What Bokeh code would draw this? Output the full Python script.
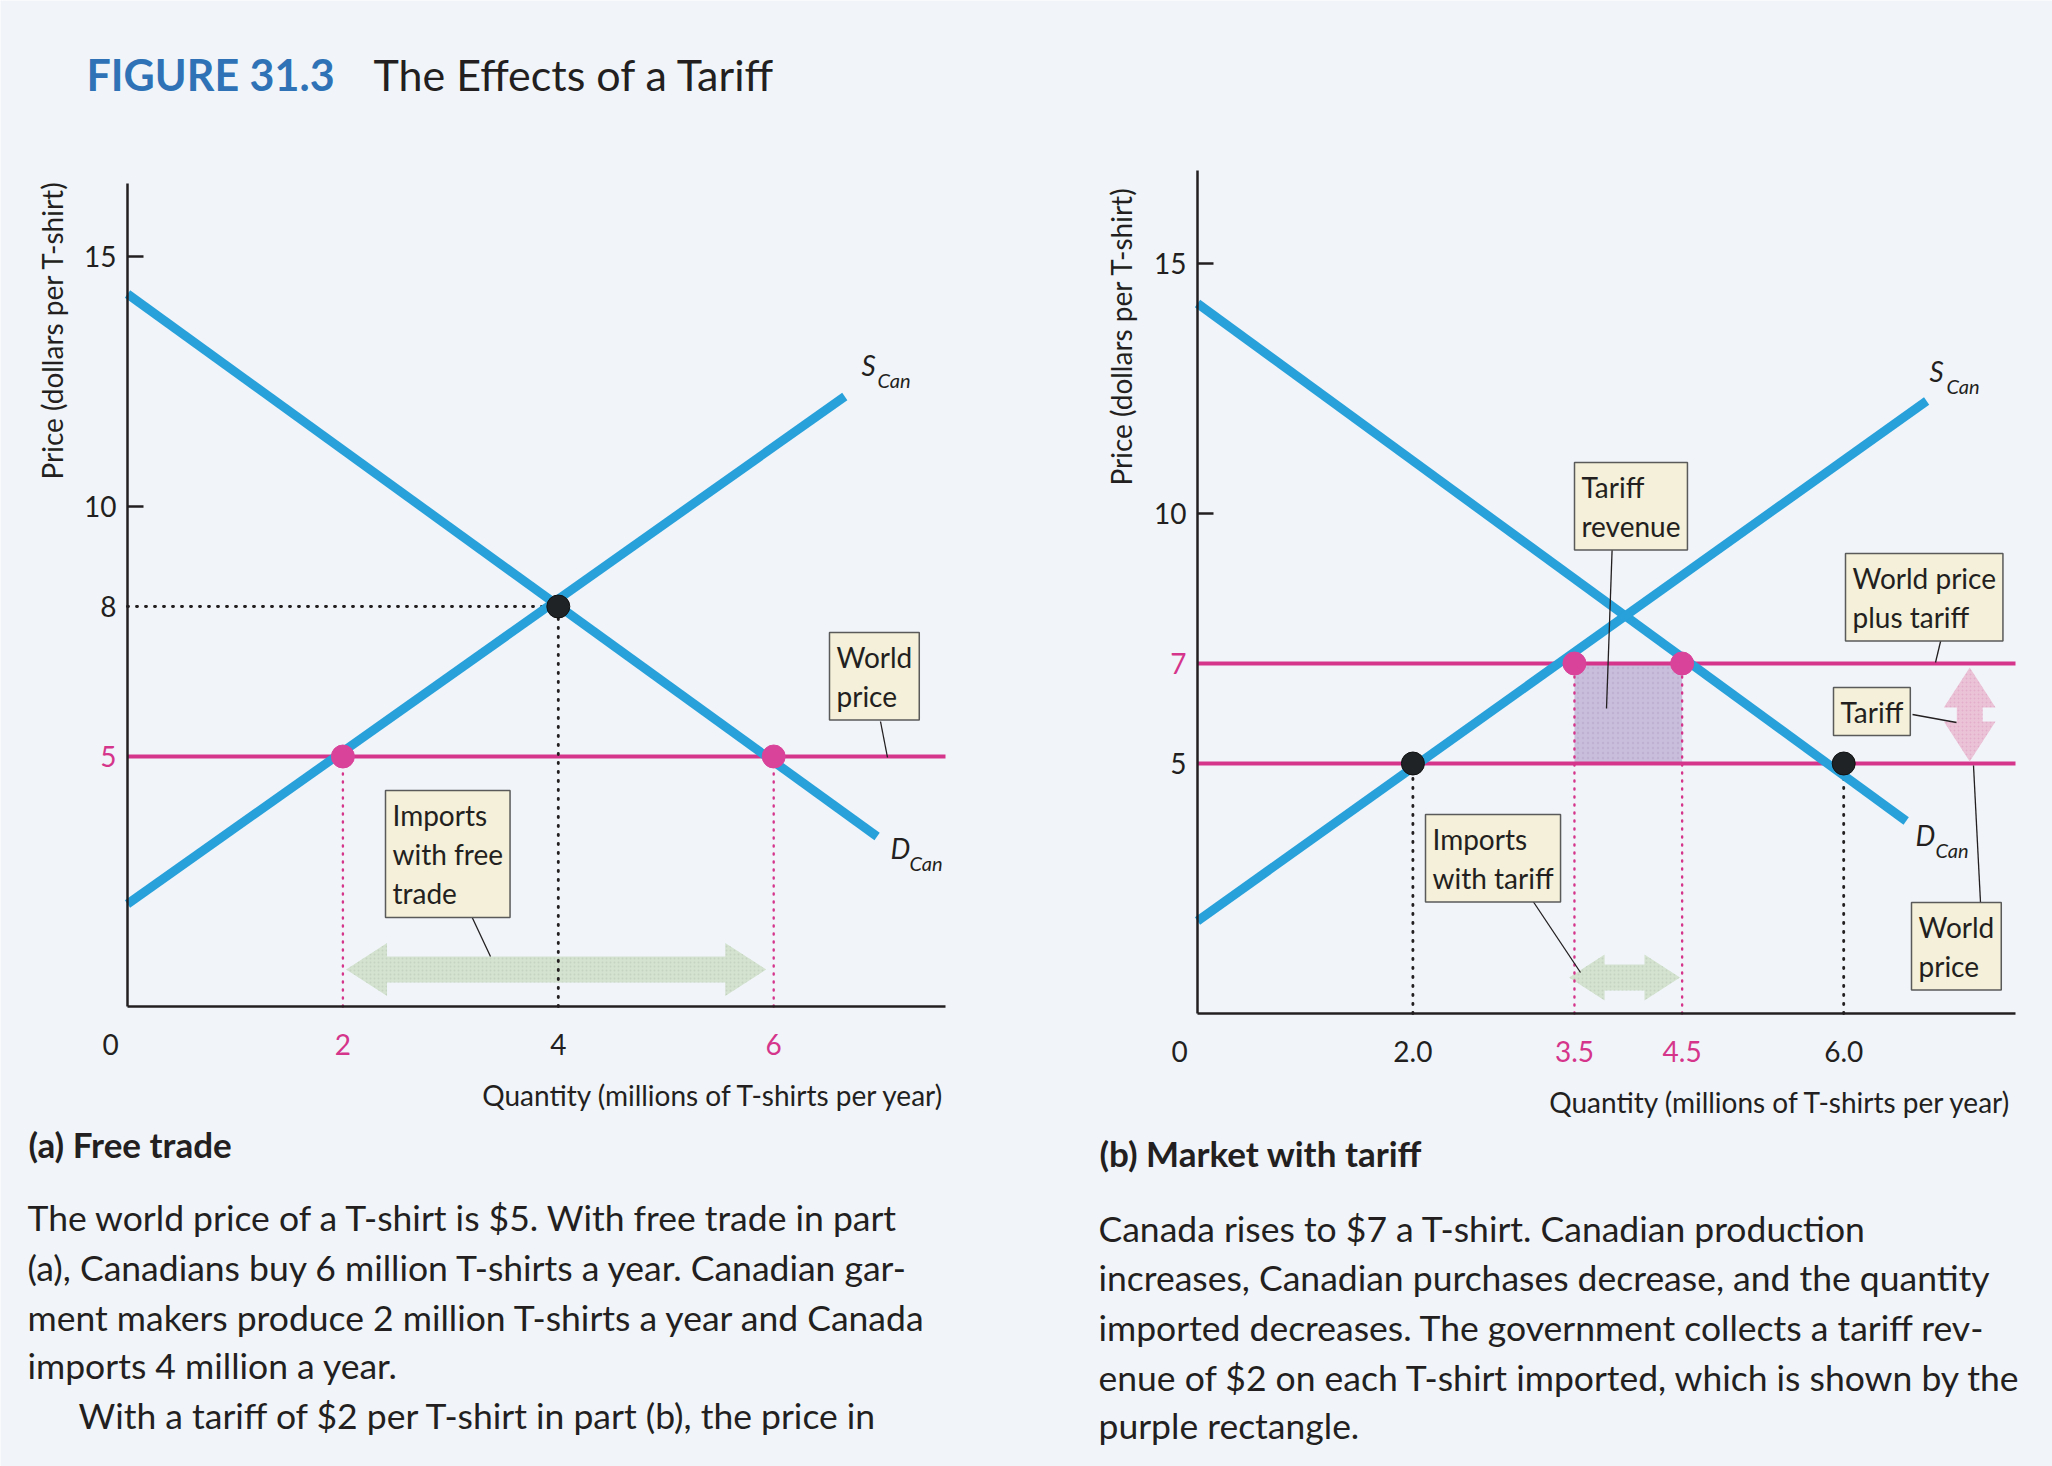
from bokeh.plotting import figure
from bokeh.models import Label, FixedTicker, PrintfTickFormatter, LinearAxis, Range1d
from bokeh.embed import file_html
from bokeh.resources import INLINE

# ======================= DATA =======================
# (a) Free trade
a_demand_q = [0.0, 6.96]
a_demand_p = [14.25, 3.4]
a_supply_q = [0.0, 6.66]
a_supply_p = [2.05, 12.2]
a_world_price = 5
a_no_trade_q, a_no_trade_p = 4, 8
a_produced_q = 2
a_bought_q = 6

# (b) Market with tariff
b_demand_q = [0.0, 6.58]
b_demand_p = [14.2, 3.85]
b_supply_q = [0.0, 6.77]
b_supply_p = [1.85, 12.25]
b_world_price = 5
b_tariff_price = 7
b_free_q = [2.0, 6.0]      # produced / bought at the world price
b_tariff_q = [3.5, 4.5]    # produced / bought at world price plus tariff

# tick labels
a_xticks_black = [4]
a_xticks_pink = [2, 6]
a_yticks_axis = [10, 15]
a_ylabels_black = [8]
a_ylabels_pink = [5]
b_xticks_black = [2.0, 6.0]
b_xticks_pink = [3.5, 4.5]
b_yticks_axis = [10, 15]
b_ylabels_black = [5]
b_ylabels_pink = [7]

title_num = "FIGURE 31.3"
title_text = "The Effects of a Tariff"
x_title = "Quantity (millions of T-shirts per year)"
y_title = "Price (dollars per T-shirt)"
caption_a = "(a) Free trade"
caption_b = "(b) Market with tariff"
para_a = [
    "The world price of a T-shirt is $5. With free trade in part",
    "(a), Canadians buy 6 million T-shirts a year. Canadian gar-",
    "ment makers produce 2 million T-shirts a year and Canada",
    "imports 4 million a year.",
    "With a tariff of $2 per T-shirt in part (b), the price in",
]
para_b = [
    "Canada rises to $7 a T-shirt. Canadian production",
    "increases, Canadian purchases decrease, and the quantity",
    "imported decreases. The government collects a tariff rev-",
    "enue of $2 on each T-shirt imported, which is shown by the",
    "purple rectangle.",
]

# ======================= STYLE / LAYOUT =======================
W, H = 2052, 1466
FONT = "Lato"
INK = "#231f20"
BG = "#f1f5fa"
BLUE = "#28a0da"
PINK = "#d5358b"
DOT_PINK = "#d9449a"
BOX_FILL = "#f4f0d9"
BOX_LINE = "#5a5a5a"
GREEN = "#d4e2d0"
PURPLE = "#c9bedb"
TARIFF_PINK = "#ebc3d7"
TITLE_BLUE = "#2f73b6"
TICK_SIZE = 28

SX, SY = 107.7, 50.0          # pixels per unit of quantity / price
A = dict(left=127, bottom=1006, xend=945, ytop=183, xr="default", yr="default")
B = dict(left=1197, bottom=1013, xend=2015, ytop=170, xr="xb", yr="yb")
for pan in (A, B):
    pan["xmax"] = (pan["xend"] - pan["left"]) / SX
    pan["ymax"] = (pan["bottom"] - pan["ytop"]) / SY

p = figure(width=W, height=H, output_backend="svg", toolbar_location=None,
           x_range=Range1d(-A["left"] / SX, (W - A["left"]) / SX),
           y_range=Range1d((A["bottom"] - H) / SY, A["bottom"] / SY),
           x_axis_type=None, y_axis_type=None, title=None, min_border=0,
           background_fill_color=BG, border_fill_color=BG, outline_line_color=None)
p.xgrid.visible = False
p.ygrid.visible = False
p.extra_x_ranges = {"xb": Range1d(-B["left"] / SX, (W - B["left"]) / SX)}
p.extra_y_ranges = {"yb": Range1d((B["bottom"] - H) / SY, B["bottom"] / SY)}


def rk(pan):
    return dict(x_range_name=pan["xr"], y_range_name=pan["yr"])


def axes(pan, xticks, yticks, xfmt=None):
    common = dict(axis_line_color=INK, axis_line_width=2.5, minor_tick_line_color=None,
                  major_label_text_font=FONT, major_label_text_font_size=f"{TICK_SIZE}px",
                  major_label_text_color=INK)
    xa = LinearAxis(fixed_location=0, bounds=(0, pan["xmax"]), ticker=FixedTicker(ticks=xticks),
                    major_tick_line_color=None, major_tick_in=0, major_tick_out=0,
                    major_label_standoff=27, **common, **rk(pan))
    if xfmt:
        xa.formatter = xfmt
    ya = LinearAxis(fixed_location=0, bounds=(0, pan["ymax"]), ticker=FixedTicker(ticks=yticks),
                    major_tick_in=16, major_tick_out=0, major_tick_line_width=2.5,
                    major_tick_line_color=INK, major_label_standoff=11, **common, **rk(pan))
    p.add_layout(xa, "below")
    p.add_layout(ya, "left")


def put_page(px, py, text, size, color=INK, style="normal", align="left",
             baseline="middle", angle=0.0, **extra):
    """text placed at a page position (pixels from top-left)"""
    x = (px - A["left"]) / SX
    y = (A["bottom"] - py) / SY
    p.add_layout(Label(x=x, y=y, text=text, text_font=FONT, text_font_size=f"{size}px",
                       text_color=color, text_font_style=style, text_align=align,
                       text_baseline=baseline, angle=angle, **extra))


def put_data(pan, x, y, text, size, color=INK, align="center", baseline="middle",
             x_offset=0, y_offset=0):
    p.add_layout(Label(x=x, y=y, text=text, text_font=FONT, text_font_size=f"{size}px",
                       text_color=color, text_align=align, text_baseline=baseline,
                       x_offset=x_offset, y_offset=y_offset, **rk(pan)))


def box(px, py, text):
    put_page(px, py, text, 28, baseline="top",
             background_fill_color=BOX_FILL, border_line_color=BOX_LINE,
             border_line_width=1.5, padding=7, text_line_height=1.16)


def leader(p0, p1):
    x0 = (p0[0] - A["left"]) / SX
    y0 = (A["bottom"] - p0[1]) / SY
    x1 = (p1[0] - A["left"]) / SX
    y1 = (A["bottom"] - p1[1]) / SY
    p.segment(x0=[x0], y0=[y0], x1=[x1], y1=[y1], line_color=INK, line_width=1.3)


def h_double_arrow(x0, x1, yc, hh, hs, L):
    xs = [x0, x0 + L, x0 + L, x1 - L, x1 - L, x1, x1 - L, x1 - L, x0 + L, x0 + L]
    ys = [yc, yc + hh, yc + hs, yc + hs, yc + hh, yc, yc - hh, yc - hs, yc - hs, yc - hh]
    return xs, ys


def v_double_arrow(xc, y0, y1, hw, sw, L):
    ys = [y0, y0 + L, y0 + L, y1 - L, y1 - L, y1, y1 - L, y1 - L, y0 + L, y0 + L]
    xs = [xc, xc + hw, xc + sw, xc + sw, xc + hw, xc, xc - hw, xc - sw, xc - sw, xc - hw]
    return xs, ys


def sub_label(main, sub, mpos, spos):
    put_page(mpos[0], mpos[1], main, 28, style="italic")
    put_page(spos[0], spos[1], sub, 20, style="italic")


DOT_W = 2.9
LW = 9

# ======================= PANEL (a) =======================
ra = rk(A)
ax_, ay_ = h_double_arrow(a_produced_q + 0.03, a_bought_q - 0.07, 0.74, 0.53, 0.26, 0.38)
p.patch(ax_, ay_, fill_color=GREEN, line_color=None,
        hatch_pattern="dot", hatch_color="#b3c6b0", hatch_alpha=0.5, hatch_scale=4, **ra)
p.segment(x0=[0], y0=[a_world_price], x1=[A["xmax"]], y1=[a_world_price],
          line_color=PINK, line_width=4, **ra)

p.segment(x0=[0, a_no_trade_q], y0=[a_no_trade_p, 0], x1=[a_no_trade_q, a_no_trade_q],
          y1=[a_no_trade_p, a_no_trade_p], line_color=INK, line_width=DOT_W,
          line_dash="1 8", line_cap="round", **ra)
p.segment(x0=[a_produced_q, a_bought_q], y0=[0, 0], x1=[a_produced_q, a_bought_q],
          y1=[a_world_price, a_world_price], line_color=PINK, line_width=2.4,
          line_dash="1 7", line_cap="round", **ra)

p.line(a_demand_q, a_demand_p, line_color=BLUE, line_width=LW, **ra)
p.line(a_supply_q, a_supply_p, line_color=BLUE, line_width=LW, **ra)

p.scatter([a_no_trade_q], [a_no_trade_p], size=23, fill_color="#1f2326", line_color="#111", **ra)
p.scatter([a_produced_q, a_bought_q], [a_world_price, a_world_price], size=23,
          fill_color=DOT_PINK, line_color=DOT_PINK, **ra)

axes(A, a_xticks_black, a_yticks_axis)
for v in a_ylabels_black:
    put_data(A, 0, v, str(v), TICK_SIZE, align="right", x_offset=-11)
for v in a_ylabels_pink:
    put_data(A, 0, v, str(v), TICK_SIZE, color=PINK, align="right", x_offset=-11)
for v in a_xticks_pink:
    put_data(A, v, 0, str(v), TICK_SIZE, color=PINK, baseline="top", y_offset=-27)
put_data(A, 0, 0, "0", TICK_SIZE, baseline="top", x_offset=-17, y_offset=-27)

put_page(51, 479, y_title, 28, angle=1.5707963)
put_page(945, 1094, x_title, 28, align="right")

sub_label("S", "Can", (861, 364), (877, 379))
sub_label("D", "Can", (890, 847), (909, 862))

box(829, 632, "World\nprice")
leader((880, 721), (887, 757))
box(385, 790, "Imports\nwith free\ntrade")
leader((467, 907), (490, 956))

put_page(86, 74, title_num, 43, color=TITLE_BLUE, style="bold")
put_page(373, 74, title_text, 43)
put_page(28, 1143, caption_a, 35, style="bold")
ys_a = [1217, 1267, 1317, 1365, 1415]
xs_a = [27, 27, 27, 27, 78]
for t, xx, yy in zip(para_a, xs_a, ys_a):
    put_page(xx, yy, t, 35.5)

# ======================= PANEL (b) =======================
rb = rk(B)
p.quad(left=[b_tariff_q[0]], right=[b_tariff_q[1]], bottom=[b_world_price],
       top=[b_tariff_price], fill_color=PURPLE, line_color=None,
       hatch_pattern="dot", hatch_color="#a898bf", hatch_alpha=0.35, hatch_scale=5, **rb)
for lvl in (b_world_price, b_tariff_price):
    p.segment(x0=[0], y0=[lvl], x1=[B["xmax"]], y1=[lvl], line_color=PINK, line_width=4, **rb)

bx_, by_ = h_double_arrow(b_tariff_q[0] - 0.05, b_tariff_q[1] - 0.02, 0.72, 0.46, 0.26, 0.33)
p.patch(bx_, by_, fill_color=GREEN, line_color=None,
        hatch_pattern="dot", hatch_color="#b3c6b0", hatch_alpha=0.5, hatch_scale=4, **rb)
vx_, vy_ = v_double_arrow(7.17, b_world_price + 0.04, b_tariff_price - 0.08, 0.24, 0.12, 0.8)
p.patch(vx_, vy_, fill_color=TARIFF_PINK, line_color=None,
        hatch_pattern="dot", hatch_color="#d99abb", hatch_alpha=0.5, hatch_scale=4, **rb)

p.segment(x0=b_free_q, y0=[0, 0], x1=b_free_q, y1=[b_world_price, b_world_price],
          line_color=INK, line_width=DOT_W, line_dash="1 8", line_cap="round", **rb)
p.segment(x0=b_tariff_q, y0=[0, 0], x1=b_tariff_q, y1=[b_tariff_price, b_tariff_price],
          line_color=PINK, line_width=2.4, line_dash="1 7", line_cap="round", **rb)

p.line(b_demand_q, b_demand_p, line_color=BLUE, line_width=LW, **rb)
p.line(b_supply_q, b_supply_p, line_color=BLUE, line_width=LW, **rb)

p.scatter(b_free_q, [b_world_price, b_world_price], size=23, fill_color="#1f2326",
          line_color="#111", **rb)
p.scatter(b_tariff_q, [b_tariff_price, b_tariff_price], size=23,
          fill_color=DOT_PINK, line_color=DOT_PINK, **rb)

axes(B, b_xticks_black, b_yticks_axis, PrintfTickFormatter(format="%.1f"))
for v in b_ylabels_black:
    put_data(B, 0, v, str(v), TICK_SIZE, align="right", x_offset=-11)
for v in b_ylabels_pink:
    put_data(B, 0, v, str(v), TICK_SIZE, color=PINK, align="right", x_offset=-11)
for v in b_xticks_pink:
    put_data(B, v, 0, f"{v:.1f}", TICK_SIZE, color=PINK, baseline="top", y_offset=-27)
put_data(B, 0, 0, "0", TICK_SIZE, baseline="top", x_offset=-18, y_offset=-27)

put_page(1120, 485, y_title, 28, angle=1.5707963)
put_page(2012, 1101, x_title, 28, align="right")

sub_label("S", "Can", (1929, 370), (1946, 385))
sub_label("D", "Can", (1915, 834), (1935, 849))

box(1574, 462, "Tariff\nrevenue")
leader((1612, 538), (1606, 708))
box(1845, 553, "World price\nplus tariff")
leader((1941, 637), (1935, 662))
box(1833, 687, "Tariff")
leader((1912, 714), (1956, 722))
box(1911, 902, "World\nprice")
leader((1980, 902), (1973, 765))
box(1425, 814, "Imports\nwith tariff")
leader((1526, 891), (1580, 972))

put_page(1099, 1152, caption_b, 35, style="bold")
ys_b = [1228, 1277, 1327, 1377, 1425]
for t, yy in zip(para_b, ys_b):
    put_page(1098, yy, t, 35.5)

open("out.html", "w").write(file_html(p, INLINE))
